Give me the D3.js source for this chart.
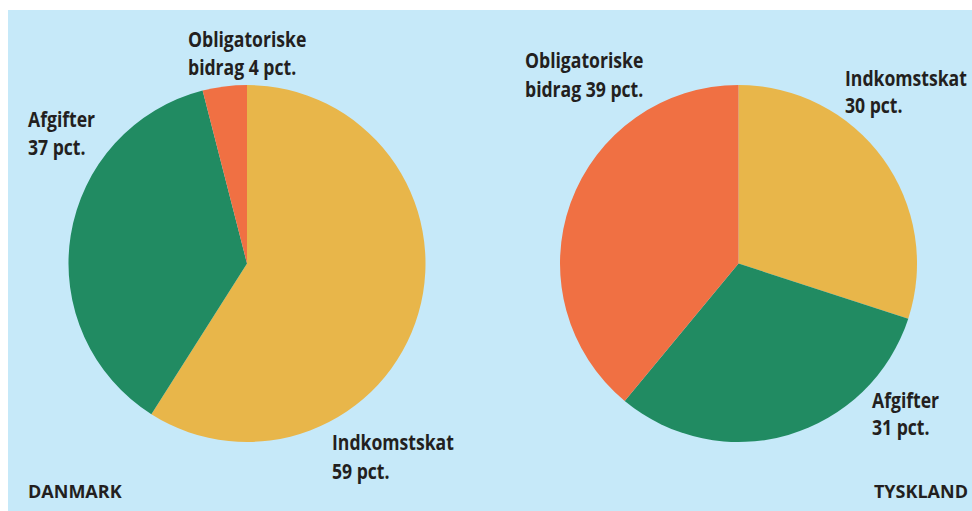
<!DOCTYPE html>
<html lang='da'>
<head>
  <meta charset='UTF-8'>
  <title>Skatter Danmark / Tyskland</title>
  <style type='text/css'>
    body {
      margin: 0;
      background: #fff;
    }
    text {
      font-family: 'Open Sans', sans-serif;
      font-weight: 700;
      fill: #231f20;
    }
  </style>
  <script type='text/javascript' src='https://cdn.jsdelivr.net/npm/d3@7'></script>
</head>
<body>
  <script type='text/javascript'>
    // data
    const categories = ['Indkomstskat', 'Afgifter', 'Obligatoriske bidrag']
    const danmark = [59, 37, 4]
    const tyskland = [30, 31, 39]
    const countries = ['DANMARK', 'TYSKLAND']
    const colors = ['#e8b64a', '#218b62', '#f07043']

    const width = 972
    const height = 511

    const svg = d3.select('body').append('svg')
      .attr('width', width)
      .attr('height', height)

    svg.append('rect')
      .attr('x', 8)
      .attr('y', 10)
      .attr('width', width - 8)
      .attr('height', height - 10)
      .style('fill', '#c6e9f9')

    const color = d3.scaleOrdinal().domain(categories).range(colors)
    const pie = d3.pie().sort(null).value(d => d.value)
    const arc = d3.arc().innerRadius(0).outerRadius(178.5)

    // label lines: [first line, second line], placed by hand like the print
    const labelText = (cat, v) => {
      if (cat === 'Obligatoriske bidrag') return ['Obligatoriske', `bidrag ${v} pct.`]
      return [cat, `${v} pct.`]
    }

    const charts = [
      {
        name: countries[0], values: danmark, cx: 247, cy: 263.5,
        nameX: 28, nameAnchor: 'start',
        labels: [[332, 450, 29], [28, 127, 28], [188, 47, 28]]
      },
      {
        name: countries[1], values: tyskland, cx: 738.5, cy: 263.5,
        nameX: 968, nameAnchor: 'end',
        labels: [[845, 86, 27], [872, 408, 27], [525, 68, 29]]
      }
    ]

    charts.forEach(c => {
      const data = categories.map((cat, i) => ({cat, value: c.values[i]}))
      const g = svg.append('g')
        .attr('transform', `translate(${c.cx},${c.cy})`)

      g.selectAll('path')
        .data(pie(data))
        .enter().append('path')
        .attr('d', arc)
        .style('fill', d => color(d.data.cat))

      data.forEach((d, i) => {
        const [x, y, lh] = c.labels[i]
        // condensed look: squeeze the glyphs horizontally
        const t = svg.append('text')
          .attr('transform', `translate(${x},${y}) scale(0.8,1)`)
          .style('font-size', '22px')
        labelText(d.cat, d.value).forEach((line, j) => {
          t.append('tspan')
            .attr('x', 0)
            .attr('dy', j === 0 ? 0 : lh)
            .text(line)
        })
      })

      svg.append('text')
        .attr('x', c.nameX)
        .attr('y', 498)
        .attr('text-anchor', c.nameAnchor)
        .style('font-size', '18px')
        .text(c.name)
    })
  </script>
</body>
</html>
